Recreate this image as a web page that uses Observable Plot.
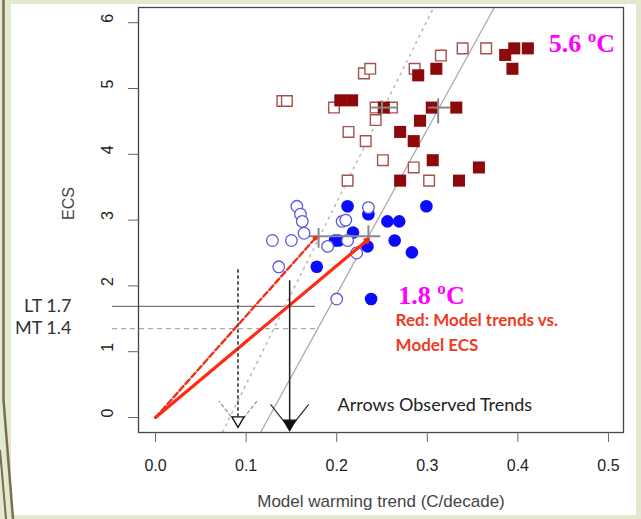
<!DOCTYPE html>
<html><head><meta charset="utf-8">
<script src="https://cdn.jsdelivr.net/npm/d3@7"></script>
<script src="https://cdn.jsdelivr.net/npm/@observablehq/plot@0.6"></script>
<style>
html,body{margin:0;padding:0;}
body{width:641px;height:519px;background:#e3e9cf;position:relative;overflow:hidden;font-family:"Liberation Sans",Arial,sans-serif;}
#paper{position:absolute;left:11px;top:4px;width:625px;height:511px;background:#fff;}
#deco{position:absolute;left:0;top:0;}
#chart{position:absolute;left:0;top:0;}
</style></head><body>
<div id="paper"></div>
<svg id="deco" width="641" height="519">
 <line x1="3.5" y1="0" x2="3.5" y2="400" stroke="#7a6d4e" stroke-width="2.5"/>
 <line x1="3.5" y1="400" x2="13" y2="519" stroke="#7a6d4e" stroke-width="2.5"/>
 <line x1="0" y1="450" x2="6" y2="519" stroke="#7a6d4e" stroke-width="2"/>
</svg>
<div id="chart"></div>
<script>
// ---- data ----
const xTicks = [0, 0.1, 0.2, 0.3, 0.4, 0.5];
const yTicks = [0, 1, 2, 3, 4, 5, 6];

// open squares
const openSquares = [[0.140,4.81],[0.145,4.81],[0.197,4.71],[0.213,4.34],[0.212,3.60],[0.230,5.23],[0.237,5.30],[0.232,4.20],[0.243,4.71],[0.243,4.52],[0.251,3.91],[0.261,4.71],[0.286,5.30],[0.285,3.80],[0.302,3.60],[0.315,5.50],[0.339,5.61],[0.365,5.61]];
// filled squares
const filledSquares = [[0.204,4.82],[0.217,4.82],[0.252,4.71],[0.270,4.34],[0.285,4.20],[0.290,5.20],[0.292,4.51],[0.305,4.71],[0.306,3.91],[0.310,5.30],[0.332,4.71],[0.270,3.60],[0.335,3.60],[0.357,3.80],[0.386,5.51],[0.394,5.30],[0.396,5.61],[0.411,5.61]];
// filled circles
const filledCircles = [[0.212,3.21],[0.235,3.09],[0.218,2.81],[0.256,2.98],[0.269,2.98],[0.299,3.21],[0.198,2.69],[0.202,2.69],[0.234,2.60],[0.264,2.69],[0.283,2.51],[0.178,2.29],[0.238,1.80]];
// open circles
const openCircles = [[0.156,3.21],[0.160,3.09],[0.162,2.98],[0.164,2.80],[0.129,2.69],[0.150,2.69],[0.136,2.29],[0.235,3.19],[0.206,2.98],[0.210,3.00],[0.190,2.60],[0.212,2.69],[0.222,2.50],[0.200,1.80]];

// group means with spread (crosses)
const crosses = [
  {x:0.180, y:2.755, x1:0.169, x2:0.210, y1:2.58, y2:2.88},
  {x:0.235, y:2.755, x1:0.210, x2:0.248, y1:2.70, y2:2.92},
  {x:0.250, y:4.71, x1:0.238, x2:0.268, y1:4.61, y2:4.82},
  {x:0.312, y:4.71, x1:0.301, x2:0.325, y1:4.47, y2:4.85}
];

// grey fit lines (two read points each)
const fitDotted = [{x1:0.0736, y1:-0.228, x2:0.307, y2:6.231}];
const fitSolid  = [{x1:0.116, y1:-0.228, x2:0.374, y2:6.231}];

// red model trend lines from origin
const redSolid  = [{x:0.235, y:2.71}];
const redDashed = [{x:0.178, y:2.75}];

// observed trends (arrows)
const obsSolid  = [{x:0.148, top:2.08, tip:-0.17}];
const obsDashed = [{x:0.091, top:2.25, tip:-0.12}];

// implied ECS levels
const levelLT = [{label:"LT 1.7", value:1.69, from:-0.0475, to:0.1766}];
const levelMT = [{label:"MT 1.4", value:1.35, from:-0.0475, to:0.1766}];

const ecsNotes = [
  {text:"5.6 \u00baC", x:0.434, y:5.68},
  {text:"1.8 \u00baC", x:0.268, y:1.85}
];

const chart = Plot.plot({
  width: 641, height: 519,
  marginLeft: 138, marginRight: 18, marginTop: 7, marginBottom: 87,
  style: {background: "transparent", fontFamily: "'Liberation Sans', Arial, sans-serif", fontSize: "16px", color: "#333"},
  x: {domain: [-0.0188, 0.5166]},
  y: {domain: [-0.228, 6.231]},
  marks: [
    Plot.ruleY(levelLT, {y:"value", x1:"from", x2:"to", stroke:"#777", strokeWidth:1.2}),
    Plot.ruleY(levelMT, {y:"value", x1:"from", x2:"to", stroke:"#aaa", strokeDasharray:"5,4", strokeWidth:1.2}),
    Plot.link(fitDotted, {x1:"x1", y1:"y1", x2:"x2", y2:"y2", stroke:"#bbb", strokeDasharray:"3,4", strokeWidth:1.6}),
    Plot.link(fitSolid, {x1:"x1", y1:"y1", x2:"x2", y2:"y2", stroke:"#aaa", strokeWidth:1.3}),
    Plot.dot(openSquares, {x:d=>d[0], y:d=>d[1], symbol:"square", r:6, fill:"white", stroke:"#a3534f", strokeWidth:1.4}),
    Plot.dot(filledSquares, {x:d=>d[0], y:d=>d[1], symbol:"square", r:6.8, fill:"#8e0a0a"}),
    Plot.dot(filledCircles, {x:d=>d[0], y:d=>d[1], r:6.3, fill:"#0a0aff"}),
    Plot.dot(openCircles, {x:d=>d[0], y:d=>d[1], r:5.8, fill:"white", stroke:"#5a5ae0", strokeWidth:1.3}),
    Plot.link(crosses, {x1:"x1", x2:"x2", y1:"y", y2:"y", stroke:"#888", strokeWidth:2}),
    Plot.link(crosses, {x1:"x", x2:"x", y1:"y1", y2:"y2", stroke:"#888", strokeWidth:2}),
    Plot.arrow(redSolid, {x1:()=>0, y1:()=>0, x2:"x", y2:"y", stroke:"#ff2a10", strokeWidth:3.2, headLength:1.6, headAngle:60}),
    Plot.arrow(redDashed, {x1:()=>0, y1:()=>0, x2:"x", y2:"y", stroke:"#f0301a", strokeWidth:2.4, strokeDasharray:"6,3", headLength:2, headAngle:60}),
    // observed: V heads
    Plot.arrow(obsSolid, {x1:"x", x2:"x", y1:"top", y2:"tip", stroke:"#333", strokeWidth:1.3, headLength:35, headAngle:76}),
    Plot.arrow(obsDashed, {x1:"x", x2:"x", y1:"top", y2:"tip", stroke:"#999", strokeWidth:1.3, strokeDasharray:"3,3", headLength:35, headAngle:76}),
    // observed: shafts
    Plot.link(obsSolid, {x1:"x", x2:"x", y1:"top", y2:"tip", stroke:"#222", strokeWidth:1.3}),
    Plot.link(obsDashed, {x1:"x", x2:"x", y1:"top", y2:"tip", stroke:"#222", strokeWidth:1.3, strokeDasharray:"3,3"}),
    Plot.dot(obsSolid, {x:"x", y:"tip", symbol:"triangle", rotate:180, r:4.5, dy:-5, fill:"#111", stroke:"#111", strokeWidth:1.3}),
    Plot.dot(obsDashed, {x:"x", y:"tip", symbol:"triangle", rotate:180, r:4.5, dy:-5, fill:"#fff", stroke:"#111", strokeWidth:1.3}),
    Plot.frame({stroke:"#444", strokeWidth:1.3}),
    Plot.axisX({ticks:xTicks, tickSize:10, tickPadding:17, tickFormat:d=>d.toFixed(1), label:null, fontSize:16, stroke:"#666", fill:"#222"}),
    Plot.axisY({ticks:yTicks, tickSize:10, tickFormat:()=>"", label:null, stroke:"#666"}),
    Plot.text(yTicks, {y:d=>d, text:d=>String(d), frameAnchor:"left", dx:-31, rotate:-90, fontSize:16, fill:"#222"}),
    Plot.text(["ECS"], {frameAnchor:"left", dx:-70, rotate:-90, fontSize:16, fill:"#444"}),
    Plot.text(["Model warming trend (C/decade)"], {frameAnchor:"bottom", dy:74, fontSize:17, fill:"#444"}),
    Plot.text(levelLT.concat(levelMT), {y:"value", text:"label", frameAnchor:"left", dx:-67, textAnchor:"end", fontSize:18, fontFamily:"Lato", fill:"#333"}),
    Plot.text(ecsNotes, {x:"x", y:"y", text:"text", textAnchor:"start", fontSize:26, fontWeight:"bold", fontFamily:"'Liberation Serif', serif", fill:"#ff00ff"}),
    Plot.text(["Red: Model trends vs.\nModel ECS"], {x:()=>0.265, y:()=>1.32, textAnchor:"start", lineHeight:1.45, fontSize:17, fontWeight:"bold", fontFamily:"Lato", fill:"#f03a22"}),
    Plot.text(["Arrows Observed Trends"], {x:()=>0.201, y:()=>0.18, textAnchor:"start", fontSize:18, fontFamily:"Lato", fill:"#222"})
  ]
});
document.getElementById("chart").appendChild(chart);
</script>
</body></html>
